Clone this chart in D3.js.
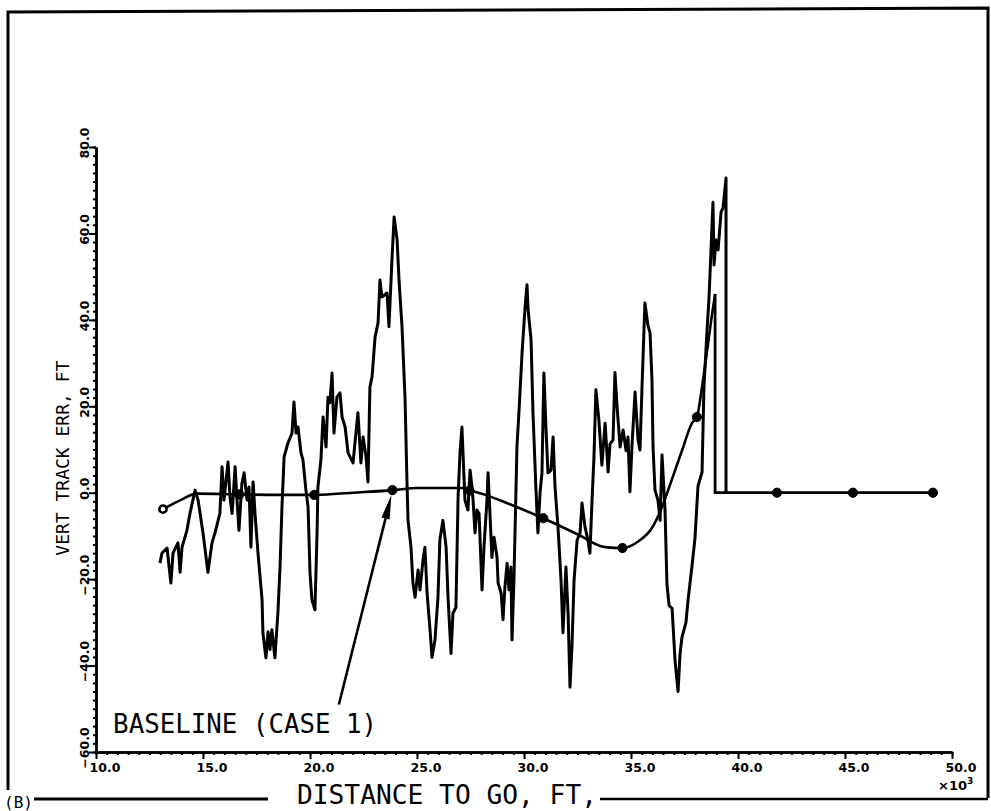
<!DOCTYPE html>
<html>
<head>
<meta charset="utf-8">
<script src="https://cdn.jsdelivr.net/npm/d3@7"></script>
<style>
  html, body { margin: 0; padding: 0; background: #fff; }
  svg { display: block; }
</style>
</head>
<body>
<svg id="chart" width="991" height="811"></svg>
<script>
// Vertical track error vs. distance to go (x 10^3 ft)
const xTicks = [10, 15, 20, 25, 30, 35, 40, 45, 50];
const yTicks = [-60, -40, -20, 0, 20, 40, 60, 80];

// Recorded run: distance to go (thousands of ft) and vertical track error (ft)
const traceX = [12.99,13.08,13.32,13.50,13.60,13.83,13.93,14.02,14.25,14.39,14.63,14.77,15.00,15.23,15.42,15.56,15.79,15.89,15.98,16.17,16.26,16.36,16.50,16.59,16.68,16.82,16.92,17.06,17.15,17.24,17.34,17.43,17.57,17.76,17.80,17.94,18.04,18.13,18.22,18.36,18.50,18.60,18.69,18.79,18.97,19.16,19.25,19.35,19.44,19.58,19.67,19.81,19.91,20.00,20.09,20.23,20.33,20.37,20.51,20.61,20.75,20.84,20.93,21.03,21.12,21.26,21.40,21.50,21.64,21.78,21.87,22.01,22.24,22.38,22.48,22.62,22.71,22.80,22.90,23.04,23.18,23.27,23.36,23.60,23.69,23.83,23.93,24.07,24.16,24.30,24.44,24.53,24.58,24.72,24.81,24.91,25.05,25.14,25.28,25.37,25.47,25.61,25.70,25.84,25.98,26.07,26.21,26.36,26.45,26.59,26.68,26.82,26.92,27.01,27.10,27.15,27.24,27.38,27.48,27.57,27.62,27.71,27.80,27.90,28.04,28.13,28.27,28.32,28.41,28.50,28.60,28.74,28.79,28.93,29.02,29.11,29.21,29.30,29.39,29.44,29.53,29.67,29.77,29.91,30.05,30.14,30.19,30.33,30.42,30.56,30.65,30.75,30.84,30.93,31.03,31.12,31.26,31.36,31.45,31.59,31.73,31.82,31.96,32.06,32.15,32.24,32.34,32.48,32.62,32.71,32.85,32.99,33.08,33.18,33.27,33.36,33.50,33.64,33.79,33.93,34.02,34.16,34.25,34.35,34.49,34.63,34.77,34.86,34.95,35.05,35.19,35.33,35.42,35.51,35.65,35.79,35.89,35.98,36.03,36.12,36.26,36.36,36.45,36.59,36.68,36.78,36.92,37.06,37.20,37.29,37.38,37.57,37.66,37.85,37.99,38.13,38.32,38.41,38.55,38.64,38.74,38.83,38.88,38.97,39.07,39.21,39.30,39.44,39.44];
const traceY = [-16.3,-14.0,-12.8,-20.9,-14.0,-11.6,-18.4,-12.6,-8.7,-4.8,0.6,-1.7,-9.3,-18.4,-11.6,-9.3,-4.8,6.0,-1.7,7.1,-1.0,-4.8,6.0,-1.7,-8.7,2.2,4.6,-1.7,1.3,-12.6,2.5,-4.8,-14.0,-24.8,-32.4,-38.2,-32.2,-36.3,-31.7,-38.2,-27.8,-17.2,-3.3,8.3,11.5,13.8,21.0,13.8,15.2,9.2,7.6,0.6,-3.3,-18.6,-24.8,-27.1,-9.3,1.3,7.6,17.5,10.6,22.1,20.8,27.7,13.8,22.1,23.1,17.5,15.2,9.2,8.3,6.9,18.5,6.9,12.9,8.3,2.5,24.5,26.8,36.0,39.3,49.2,45.3,46.2,38.4,53.9,63.8,58.5,49.2,38.4,22.1,2.9,-6.4,-12.6,-20.9,-24.2,-17.9,-22.5,-15.6,-12.6,-23.2,-31.8,-38.1,-34.1,-24.2,-10.9,-6.4,-12.6,-24.2,-37.2,-27.9,-26.5,-1.0,9.2,15.2,9.2,-1.7,-4.0,5.2,1.3,-1.7,-9.3,-4.0,-4.8,-22.5,-12.6,-1.7,4.6,-4.8,-15.0,-10.3,-15.0,-20.9,-23.2,-29.4,-21.8,-16.3,-22.5,-17.2,-34.1,-20.2,10.6,19.2,32.4,43.0,48.1,42.4,35.4,18.5,0.6,-9.3,0.0,4.6,27.7,14.5,4.6,5.2,12.9,1.3,-8.0,-20.2,-32.4,-17.2,-27.9,-45.0,-35.7,-20.2,-11.0,-9.3,-2.4,-7.9,-11.0,-14.0,-1.7,8.3,23.8,16.8,6.4,16.1,4.8,11.3,12.2,27.8,19.8,10.6,14.5,9.7,12.9,0.2,11.3,23.3,12.2,9.9,23.8,43.9,38.8,37.0,26.1,10.6,0.6,-1.7,-6.4,8.7,-4.0,-21.2,-26.1,-26.8,-39.0,-46.0,-37.4,-33.5,-30.0,-25.1,-17.0,-10.5,1.5,4.8,24.5,37.4,44.6,56.2,67.2,52.7,58.5,56.2,65.0,65.9,72.8,0.0];

// Baseline (case 1): smooth reference curve, then the drop and the flat tail
const baseX = [13.13,14.0,14.7,16.7,18.5,20.3,22.0,23.9,25.0,27.1,27.5,28.2,29.4,30.9,32.5,33.8,34.6,35.3,36.0,36.45,36.92,37.38,37.85,38.08,38.32,38.55,38.75,38.93];
const baseY = [-3.8,-1.6,-0.2,-0.4,-0.5,-0.5,0.0,0.6,1.1,1.1,0.5,-0.5,-2.8,-5.9,-9.6,-12.6,-12.8,-11.4,-8.0,-3.3,3.2,9.7,16.1,17.5,24.5,32.6,40.0,46.0];
const tailX = [38.93, 38.93, 49.11];
const tailY = [46.0, 0.0, 0.0];

// Plotted symbols on the baseline
const markerX = [13.13, 16.7, 20.2, 23.85, 27.45, 30.9, 34.6, 38.08, 41.82, 45.37, 49.11];
const markerY = [-3.8, -0.4, -0.5, 0.6, 0.5, -5.9, -12.8, 17.5, 0.0, 0.0, 0.0];

const svg = d3.select("#chart");
const x = d3.scaleLinear().domain([10, 50]).range([96, 952]);
const y = d3.scaleLinear().domain([-60, 80]).range([752, 147]);

const ink = "#000";
const mono = "'DejaVu Sans Mono', 'Liberation Mono', monospace";
const tickFont = "'DejaVu Sans', sans-serif";

// Figure frame
const frame = svg.append("g").attr("fill", "none").attr("stroke", ink).attr("stroke-width", 3);
frame.append("path").attr("d", "M8,790 L8,12 L988,8 L988,798");
frame.append("path").attr("d", "M34,799 L268,799");
frame.append("path").attr("d", "M600,799 L988,799").attr("stroke-width", 2.5);

// Axes
const minorX = d3.range(10, 50.01, 0.5);
const minorY = d3.range(-60, 80.01, 2);

const gx = svg.append("g").attr("transform", `translate(0,${y(-60)})`);
gx.call(d3.axisBottom(x).tickValues(minorX).tickSize(3).tickFormat("").tickSizeOuter(0));
gx.append("g").call(d3.axisBottom(x).tickValues(xTicks).tickSize(7).tickFormat("").tickSizeOuter(0));
gx.selectAll("path.domain").attr("stroke", ink).attr("stroke-width", 2.4);
gx.selectAll("line").attr("stroke", ink).attr("stroke-width", 2);

const gy = svg.append("g").attr("transform", `translate(${x(10)},0)`);
gy.call(d3.axisLeft(y).tickValues(minorY).tickSize(3).tickFormat("").tickSizeOuter(0));
gy.append("g").call(d3.axisLeft(y).tickValues(yTicks).tickSize(7).tickFormat("").tickSizeOuter(0));
gy.selectAll("path.domain").attr("stroke", ink).attr("stroke-width", 2.4);
gy.selectAll("line").attr("stroke", ink).attr("stroke-width", 2);

const fmt = d3.format(".1f");
svg.append("g").selectAll("text").data(xTicks).join("text")
  .attr("x", d => x(d) + 9).attr("y", 772)
  .attr("text-anchor", "middle")
  .attr("font-family", tickFont).attr("font-weight", "bold")
  .attr("font-size", 12.5).attr("fill", ink)
  .text(fmt);

svg.append("g").selectAll("text").data(yTicks).join("text")
  .attr("transform", d => `translate(89,${y(d) - 4}) rotate(-90)`)
  .attr("text-anchor", "middle")
  .attr("font-family", tickFont).attr("font-weight", "bold")
  .attr("font-size", 12.5).attr("fill", ink)
  .text(fmt);

// Axis titles
svg.append("text")
  .attr("transform", `translate(69,${y(8)}) rotate(-90)`)
  .attr("text-anchor", "middle")
  .attr("font-family", mono).attr("font-size", 18).attr("fill", ink)
  .text("VERT TRACK ERR, FT");

svg.append("text")
  .attr("x", 297).attr("y", 804)
  .attr("font-family", mono).attr("font-size", 26).attr("fill", ink)
  .attr("textLength", 300).attr("lengthAdjust", "spacingAndGlyphs")
  .text("DISTANCE TO GO, FT,");

svg.append("text")
  .attr("x", 938).attr("y", 790)
  .attr("font-family", tickFont).attr("font-weight", "bold")
  .attr("font-size", 13).attr("fill", ink)
  .text("\u00d710")
  .append("tspan").attr("dy", -6).attr("font-size", 9).text("3");

svg.append("text")
  .attr("x", 4).attr("y", 808)
  .attr("font-family", mono).attr("font-size", 16).attr("fill", ink)
  .text("(B)");

// Series
const line = d3.line().x(d => x(d[0])).y(d => y(d[1]));

svg.append("path")
  .datum(d3.zip(traceX, traceY))
  .attr("fill", "none").attr("stroke", ink)
  .attr("stroke-width", 3).attr("stroke-linejoin", "round")
  .attr("d", line);

svg.append("path")
  .datum(d3.zip(baseX, baseY))
  .attr("fill", "none").attr("stroke", ink).attr("stroke-width", 2.6)
  .attr("d", line.curve(d3.curveMonotoneX));

svg.append("path")
  .datum(d3.zip(tailX, tailY))
  .attr("fill", "none").attr("stroke", ink).attr("stroke-width", 2.8)
  .attr("d", d3.line().x(d => x(d[0])).y(d => y(d[1])));

svg.append("g").selectAll("circle").data(d3.zip(markerX, markerY)).join("circle")
  .attr("cx", d => x(d[0])).attr("cy", d => y(d[1]))
  .attr("r", (d, i) => i === 0 ? 3.6 : 4.6)
  .attr("fill", (d, i) => i === 0 ? "#fff" : ink)
  .attr("stroke", ink).attr("stroke-width", (d, i) => i === 0 ? 2.6 : 1);

// Annotation: label with arrow to the baseline symbol
svg.append("text")
  .attr("x", x(10.8)).attr("y", y(-55.5))
  .attr("font-family", mono).attr("font-size", 26).attr("fill", ink)
  .attr("textLength", 264).attr("lengthAdjust", "spacingAndGlyphs")
  .text("BASELINE (CASE 1)");

const tail = [x(21.35), y(-49)];
const tip = [x(23.85) - 1, y(0.6) + 5];
const ang = Math.atan2(tip[1] - tail[1], tip[0] - tail[0]);
const headLen = 24, headW = 4.2;
const base = [tip[0] - headLen * Math.cos(ang), tip[1] - headLen * Math.sin(ang)];
svg.append("line")
  .attr("x1", tail[0]).attr("y1", tail[1]).attr("x2", base[0]).attr("y2", base[1])
  .attr("stroke", ink).attr("stroke-width", 2.6);
svg.append("path")
  .attr("d", `M${tip[0]},${tip[1]}
    L${base[0] + headW * Math.sin(ang)},${base[1] - headW * Math.cos(ang)}
    L${base[0] - headW * Math.sin(ang)},${base[1] + headW * Math.cos(ang)}Z`)
  .attr("fill", ink);
</script>
</body>
</html>
